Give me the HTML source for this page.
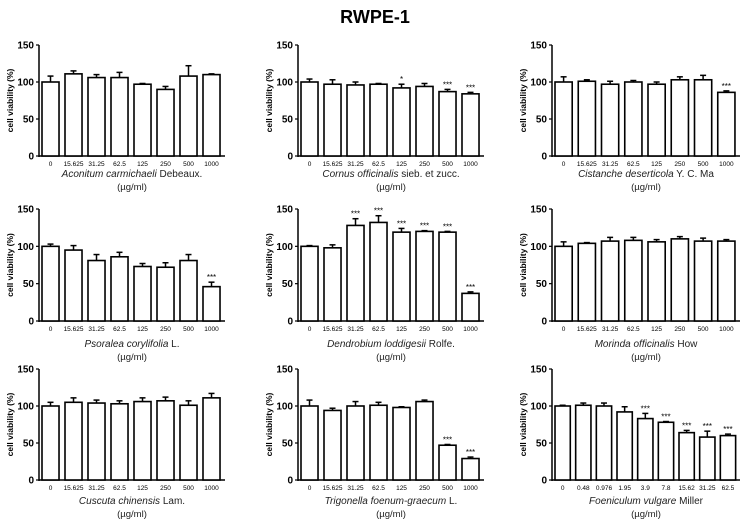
<!DOCTYPE html>
<html><head><meta charset="utf-8"><style>
body{margin:0;background:#fff;}
svg{display:block;font-family:"Liberation Sans",Arial,sans-serif;}
</style></head><body>
<svg id="chart" width="750" height="529" viewBox="0 0 750 529">
<text x="375" y="23" text-anchor="middle" font-size="18" font-weight="bold">RWPE-1</text>
</svg>
<script>
const doseLabels = ["0","15.625","31.25","62.5","125","250","500","1000"];
const doseLabels9 = ["0","0.48","0.976","1.95","3.9","7.8","15.62","31.25","62.5"];
const speciesNames = ["Aconitum carmichaeli","Cornus officinalis","Cistanche deserticola","Psoralea corylifolia","Dendrobium loddigesii","Morinda officinalis","Cuscuta chinensis","Trigonella foenum-graecum","Foeniculum vulgare"];
const speciesAuthors = ["Debeaux.","sieb. et zucc.","Y. C. Ma","L.","Rolfe.","How","Lam.","L.","Miller"];
const meanAconitum = [100,111,106,106,97,90,108,110];
const errAconitum = [8,4,4,7,1,4,14,1];
const meanCornus = [100,97,96,97,92,94,87,84];
const errCornus = [4,6,4,1,5,4,3,2];
const meanCistanche = [100,101,97,100,97,103,103,86];
const errCistanche = [7,2,4,2,3,4,6,2];
const meanPsoralea = [100,95,81,86,73,72,81,46];
const errPsoralea = [3,6,8,6,4,6,8,6];
const meanDendrobium = [100,98,128,132,119,120,119,37];
const errDendrobium = [1,4,9,9,5,1,1,2];
const meanMorinda = [100,104,107,108,106,110,107,107];
const errMorinda = [6,1,5,4,3,3,4,2];
const meanCuscuta = [100,105,104,103,106,107,101,111];
const errCuscuta = [5,6,4,4,5,5,6,6];
const meanTrigonella = [100,94,100,101,98,106,47,29];
const errTrigonella = [8,3,6,4,1,2,1,2];
const meanFoeniculum = [100,101,100,92,83,78,64,58,60];
const errFoeniculum = [1,3,4,7,7,1,3,8,2];
const sigCornus = ["","","","","*","","***","***"];
const sigCistanche = ["","","","","","","","***"];
const sigPsoralea = ["","","","","","","","***"];
const sigDendrobium = ["","","***","***","***","***","***","***"];
const sigTrigonella = ["","","","","","","***","***"];
const sigFoeniculum = ["","","","","***","***","***","***","***"];
const yTicks = [0,50,100,150];

const panels = [
 {m:meanAconitum,e:errAconitum,s:null,l:doseLabels},
 {m:meanCornus,e:errCornus,s:sigCornus,l:doseLabels},
 {m:meanCistanche,e:errCistanche,s:sigCistanche,l:doseLabels},
 {m:meanPsoralea,e:errPsoralea,s:sigPsoralea,l:doseLabels},
 {m:meanDendrobium,e:errDendrobium,s:sigDendrobium,l:doseLabels},
 {m:meanMorinda,e:errMorinda,s:null,l:doseLabels},
 {m:meanCuscuta,e:errCuscuta,s:null,l:doseLabels},
 {m:meanTrigonella,e:errTrigonella,s:sigTrigonella,l:doseLabels},
 {m:meanFoeniculum,e:errFoeniculum,s:sigFoeniculum,l:doseLabels9}
];
const colX=[39,298,552], colW=[186,186,188];
const rowBase=[156,321,480], rowTop=[45,209,369];
const nameY=[177,347,504];
const NS="http://www.w3.org/2000/svg";
const svg=document.getElementById('chart');
function mk(tag,attrs,parent,txt){const el=document.createElementNS(NS,tag);for(const k in attrs)el.setAttribute(k,attrs[k]);if(txt!==undefined)el.textContent=txt;(parent||svg).appendChild(el);return el;}
panels.forEach((p,i)=>{
 const c=i%3,r=Math.floor(i/3);
 const x0=colX[c],w=colW[c],yb=rowBase[r],yt=rowTop[r];
 const g=mk('g',{});
 
 
 const y=v=>yb-(v/150)*(yb-yt);
 const n=p.m.length, step=(w-2)/n, bw=step*0.74;
 const xa=mk('line',{x1:x0,y1:yt,x2:x0,y2:yb+1,stroke:'#000','stroke-width':1.5},g);
 
 
 const xb=mk('line',{x1:x0,y1:yb,x2:x0+w,y2:yb,stroke:'#000','stroke-width':1.5},g);
 
 
 yTicks.forEach(t=>{
  mk('line',{x1:x0-3,y1:y(t),x2:x0,y2:y(t),stroke:'#000','stroke-width':1.2},g);
  const tl=mk('text',{x:x0-5,y:y(t)+3.5,'text-anchor':'end','font-size':10,'font-weight':'bold'},g,String(t));
  
  
 });
 const yl=mk('text',{transform:`translate(${x0-26},${(yb+yt)/2}) rotate(-90)`,'text-anchor':'middle','font-size':8.5,'font-weight':'bold'},g,'cell viability (%)');
 
 
 p.m.forEach((v,j)=>{
  const bx=x0+3+j*step, cx=bx+bw/2;
  const ey=y(v+p.e[j]);
  mk('line',{x1:cx,y1:y(v),x2:cx,y2:ey,stroke:'#000','stroke-width':1.5},g);
  mk('line',{x1:cx-3,y1:ey,x2:cx+3,y2:ey,stroke:'#000','stroke-width':1.5},g);
  const b=mk('rect',{x:bx,y:y(v),width:bw,height:yb-y(v),fill:'#fff',stroke:'#000','stroke-width':1.6},g);
  
  
  const xl=mk('text',{x:cx,y:yb+10,'text-anchor':'middle','font-size':6.5},g,p.l[j]);
  
  
  if(p.s&&p.s[j]){
   const st=mk('text',{x:cx,y:ey-2,'text-anchor':'middle','font-size':8},g,p.s[j]);
   
   
  }
 });
 const nm=mk('text',{x:x0+w/2,y:nameY[r],'text-anchor':'middle','font-size':10,fill:'#222'},g);
 
 
 mk('tspan',{'font-style':'italic'},nm,speciesNames[i]);
 mk('tspan',{},nm,' '+speciesAuthors[i]);
 const un=mk('text',{x:x0+w/2,y:nameY[r]+13,'text-anchor':'middle','font-size':9.5,fill:'#222'},g,'(µg/ml)');
 
 
});
</script>
</body></html>
